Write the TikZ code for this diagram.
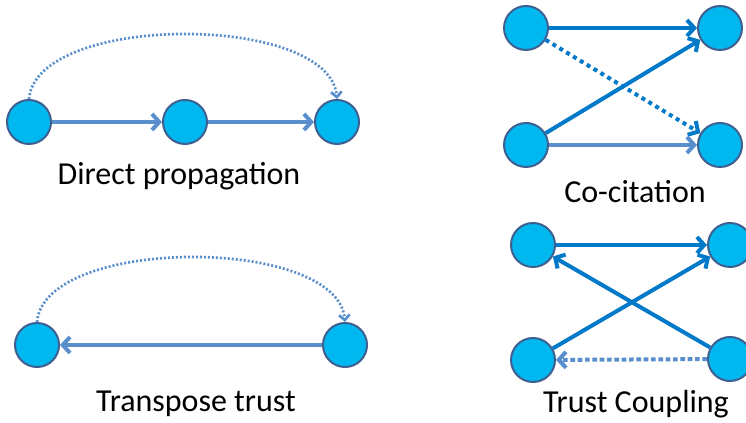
\documentclass[tikz,border=0pt]{standalone}
\usepackage{fontspec}
\setmainfont{Carlito}
\usetikzlibrary{arrows.meta}
\definecolor{vfill}{RGB}{0,184,240}
\definecolor{vline}{RGB}{62,96,145}
\definecolor{lightarr}{RGB}{88,142,204}
\definecolor{darkarr}{RGB}{0,122,200}

\begin{document}
\begin{tikzpicture}[->, x=0.75pt, y=0.75pt,
    >={Straight Barb[length=5.5pt,width=12pt]},
    vert/.style={circle, draw=vline, line width=1.5pt, fill=vfill, minimum size=33pt, inner sep=0pt},
    lbl/.style={anchor=base, font=\fontsize{24}{28}\selectfont},
    light/.style={draw=lightarr, line width=3pt},
    dark/.style={draw=darkarr, line width=3pt},
    dotarc/.style={draw=lightarr, line width=2pt, dash pattern=on 1.5pt off 1.5pt,
        -{Straight Barb[length=4pt,width=8pt]}, out=85, in=95, looseness=0.72}]
    \useasboundingbox (0,0) rectangle (746,-423);

    \node[vert] (d1) at (29,-122) {};
    \node[vert] (d2) at (185,-122) {};
    \node[vert] (d3) at (337,-122) {};
    \node[lbl] (dlabel) at (179,-185) {Direct propagation};

    \node[vert] (t1) at (37,-345) {};
    \node[vert] (t2) at (345,-345) {};
    \node[lbl] (tlabel) at (196,-412) {Transpose trust};

    \node[vert] (c1) at (526,-28) {};
    \node[vert] (c2) at (720,-28) {};
    \node[vert] (c3) at (526,-145) {};
    \node[vert] (c4) at (720,-145) {};
    \node[lbl] (clabel) at (635,-203) {Co-citation};

    \node[vert] (k1) at (533,-245) {};
    \node[vert] (k2) at (730,-245) {};
    \node[vert] (k3) at (533,-360) {};
    \node[vert] (k4) at (730,-359) {};
    \node[lbl] (klabel) at (636,-413) {Trust Coupling};

    \path
        (d1) edge [light] (d2)
        (d2) edge [light] (d3)
        (d1.north) edge [dotarc] (d3.north)
        (t2) edge [light] (t1)
        (t1.north) edge [dotarc] (t2.north);

    \path
        (c1) edge [dark] (c2)
        (c1) edge [dark, dash pattern=on 3pt off 3pt] (c4)
        (c3) edge [dark] (c2)
        (c3) edge [light] (c4);

    \path
        (k1) edge [dark] (k2)
        (k4) edge [dark] (k1)
        (k3) edge [dark] (k2)
        (k4) edge [light, dash pattern=on 3.5pt off 2pt] (k3);
\end{tikzpicture}
\end{document}
